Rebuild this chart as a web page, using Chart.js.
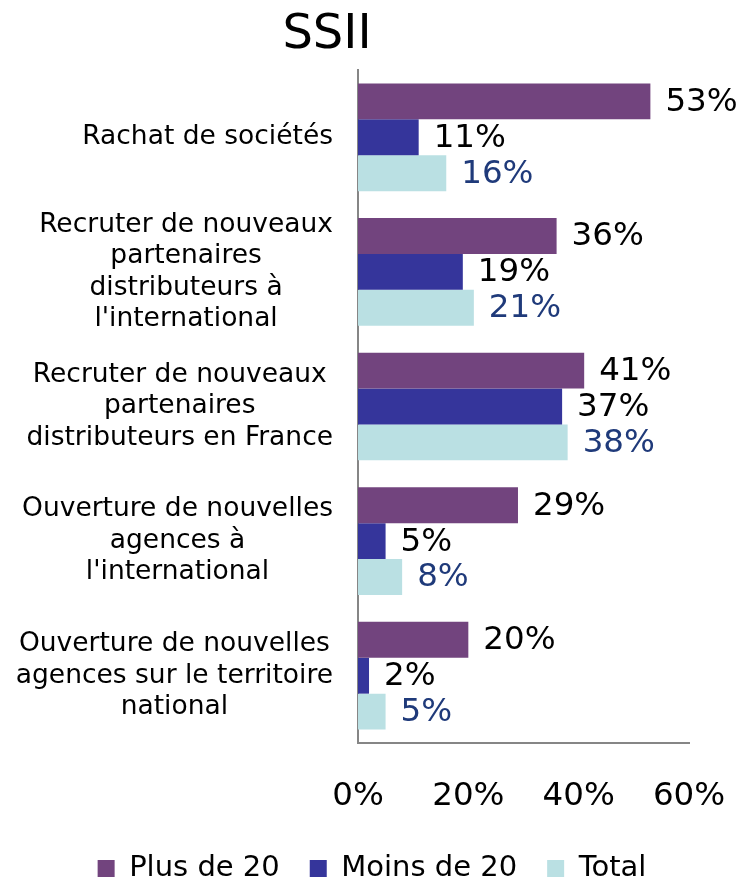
<!DOCTYPE html>
<html>
<head>
<meta charset="utf-8">
<script src="https://cdn.jsdelivr.net/npm/chart.js@4"></script>
<style>
  body { margin: 0; background: #fff; }
</style>
</head>
<body>
<canvas id="myChart" width="744" height="882"></canvas>
<script>
// data
const title = "SSII";
const categories = [
  ["Rachat de sociétés"],
  ["Recruter de nouveaux", "partenaires", "distributeurs à", "l'international"],
  ["Recruter de nouveaux", "partenaires", "distributeurs en France"],
  ["Ouverture de nouvelles", "agences à", "l'international"],
  ["Ouverture de nouvelles", "agences sur le territoire", "national"],
];
const seriesNames = ["Plus de 20", "Moins de 20", "Total"];
const plusDe20 = [53, 36, 41, 29, 20];
const moinsDe20 = [11, 19, 37, 5, 2];
const total = [16, 21, 38, 8, 5];
const xTicks = [0, 20, 40, 60];

const barColors = ["#72447E", "#35359B", "#BAE0E3"];
const labelColors = ["#000000", "#000000", "#1F3A7A"];
const FONT = '"DejaVu Sans", Verdana, sans-serif';

// value labels next to each bar
const valueLabels = {
  id: "valueLabels",
  afterDatasetsDraw(chart) {
    const ctx = chart.ctx;
    ctx.save();
    ctx.font = "32.5px " + FONT;
    ctx.textBaseline = "middle";
    ctx.textAlign = "left";
    chart.data.datasets.forEach((ds, di) => {
      const meta = chart.getDatasetMeta(di);
      meta.data.forEach((bar, i) => {
        ctx.fillStyle = labelColors[di];
        ctx.fillText(ds.data[i] + "%", bar.x + 15, bar.y + 1);
      });
    });
    ctx.restore();
  },
};

// category labels: block right aligned, lines centred inside the block
const categoryLabels = {
  id: "categoryLabels",
  afterDraw(chart) {
    const ctx = chart.ctx;
    const yScale = chart.scales.y;
    ctx.save();
    ctx.font = "26.5px " + FONT;
    ctx.fillStyle = "#000";
    ctx.textAlign = "center";
    ctx.textBaseline = "middle";
    const right = chart.chartArea.left - 25;
    const lh = 31.5;
    categories.forEach((lines, i) => {
      const w = Math.max(...lines.map((l) => ctx.measureText(l).width));
      const cx = right - w / 2;
      const yc = yScale.getPixelForTick(i);
      lines.forEach((l, j) => {
        ctx.fillText(l, cx, yc + (j - (lines.length - 1) / 2) * lh);
      });
    });
    // title
    ctx.font = "48px " + FONT;
    ctx.textBaseline = "alphabetic";
    ctx.fillText(title, 327, 48);
    ctx.restore();
  },
};

const ctx = document.getElementById("myChart");

new Chart(ctx, {
  type: "bar",
  data: {
    labels: categories.map((c) => c.join(" ")),
    datasets: [
      { label: seriesNames[0], data: plusDe20, backgroundColor: barColors[0] },
      { label: seriesNames[1], data: moinsDe20, backgroundColor: barColors[1] },
      { label: seriesNames[2], data: total, backgroundColor: barColors[2] },
    ],
  },
  options: {
    indexAxis: "y",
    responsive: false,
    animation: false,
    datasets: {
      bar: { categoryPercentage: 0.8, barPercentage: 1.0 },
    },
    layout: { padding: { top: 70, right: 0, bottom: -11, left: 0 } },
    scales: {
      x: {
        min: 0,
        max: 60,
        afterBuildTicks: (scale) => {
          scale.ticks = xTicks.map((v) => ({ value: v }));
        },
        ticks: {
          callback: (v) => v + "%",
          font: { family: FONT, size: 32.5 },
          color: "#000",
          padding: 34,
          maxRotation: 0,
        },
        grid: { display: false, drawTicks: false },
        border: { display: true, color: "#868686", width: 2 },
        afterFit: (scale) => {
          scale.height = 81;
          scale.paddingLeft = 0;
          scale.paddingRight = 0;
        },
      },
      y: {
        grid: { display: false, drawTicks: false },
        border: { display: true, color: "#868686", width: 2 },
        ticks: { display: false },
        afterFit: (scale) => {
          scale.width = 358;
        },
      },
      yRight: {
        type: "category",
        position: "right",
        grid: { display: false, drawTicks: false },
        border: { display: false },
        ticks: { display: false },
        afterFit: (scale) => {
          scale.width = 55;
        },
      },
    },
    plugins: {
      legend: {
        position: "bottom",
        labels: {
          font: { family: FONT, size: 29 },
          color: "#000",
          boxWidth: 17,
          boxHeight: 17,
          padding: 30,
        },
      },
      title: { display: false },
      tooltip: { enabled: false },
    },
  },
  plugins: [valueLabels, categoryLabels],
});
</script>
</body>
</html>
